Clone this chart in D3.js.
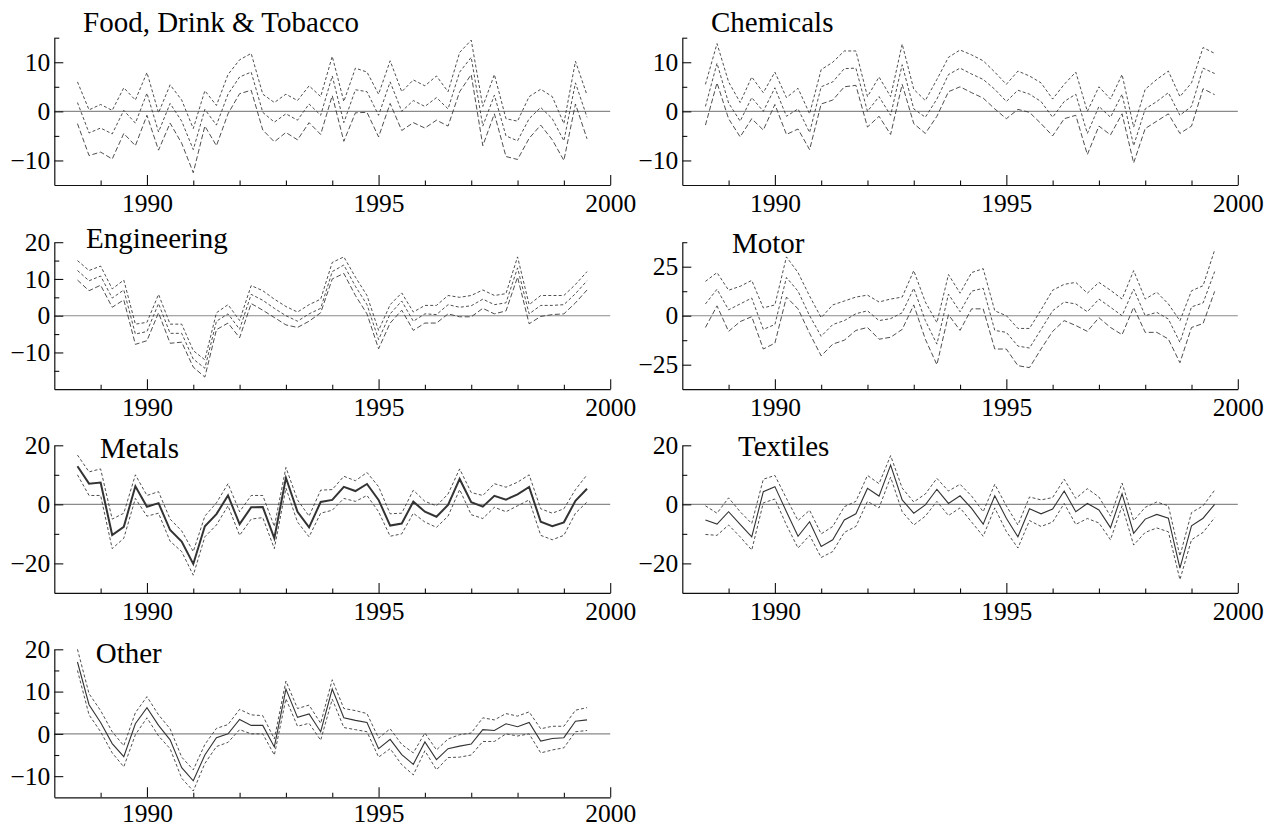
<!DOCTYPE html>
<html>
<head>
<meta charset="utf-8">
<script src="https://cdnjs.cloudflare.com/ajax/libs/d3/7.8.5/d3.min.js"></script>
<style>
  html, body { margin: 0; padding: 0; background: #fff; }
  svg { display: block; }
</style>
</head>
<body>
<svg id="chart" width="1269" height="828"></svg>
<script>
// ---------- DATA (quarterly, 1988.5 .. 1999.5) ----------
const startYear = 1988.5;
const nQuarters = 45;
const dates = d3.range(nQuarters).map(i => startYear + i * 0.25);

const xMajorTicks = [1990, 1995, 2000];
const xMinorTicks = [1989, 1991, 1992, 1993, 1994, 1996, 1997, 1998, 1999];

const titles = ["Food, Drink & Tobacco", "Chemicals", "Engineering", "Motor", "Metals", "Textiles", "Other"];

const foodUp  = [6, 0.3, 1.4, 0.2, 4.8, 2.3, 7.9, -0.3, 5.4, 2.3, -3.5, 4.2, 1.2, 7.5, 10.5, 11.8, 3.5, 1.8, 3.5, 2.2, 5.2, 3.0, 11.2, 2, 8.8, 8, 3.5, 10.3, 4, 6.4, 5.2, 7.2, 4, 12, 14.5, 1, 7.5, -1.5, -2, 3, 4.5, 3, -2.5, 10.2, 3.3];
const foodMid = [1.8, -4.4, -3.4, -4.6, 0.2, -2.4, 3.7, -4.2, 1.6, -2, -7.8, 0.4, -2.8, 3.5, 7, 8, -0.2, -2.2, -0.5, -1.8, 1.5, -0.8, 7.2, -2.3, 4.4, 4, -0.8, 6, 0, 2.2, 1, 2.8, 0.5, 8, 11, -3, 3.3, -5, -6, -1.5, 0.8, -1.5, -6, 5.8, -1.2];
const foodLo  = [-2.5, -9, -8.3, -9.7, -4.5, -7, -0.8, -7.9, -2.4, -6.5, -12.5, -3, -7, -0.5, 3.6, 4.3, -3.8, -6.2, -4.3, -5.8, -2.3, -4.7, 3.2, -6.1, -0.3, -0.2, -5.2, 1.6, -3.9, -2.3, -3.4, -1.8, -3, 4, 7.5, -7, -0.5, -9.2, -9.8, -5.5, -2.8, -5.8, -10, 1.5, -5.6];

const chemUp  = [5.5, 13.8, 6, 1.8, 7, 3.8, 8, 2.8, 4.7, -0.5, 8.5, 10, 12.3, 12.3, 3, 7, 3, 13.7, 4.5, 2.2, 6.5, 11, 12.5, 11.5, 10.3, 8, 5.5, 8.2, 7.2, 5.8, 2.5, 5.5, 8, 0, 5, 2.5, 7.5, -3.2, 4.5, 6.5, 8.2, 3, 5.8, 13, 11.8];
const chemMid = [1, 9.8, 1.7, -2, 2.8, 0, 4.8, -1, 0.5, -4.3, 5, 6, 8.7, 8.8, 0, 3, -0.8, 9.5, 0.5, -1.2, 2.5, 7.5, 8.8, 7.6, 6.5, 4.5, 2, 4.3, 3.5, 2, -1.2, 2, 3.5, -4.5, 1, -1.2, 3.5, -7, 0.5, 2, 3.8, -0.8, 1, 8.8, 7.7];
const chemLo  = [-2.8, 5.8, -1.5, -5.2, -1.5, -3.8, 1.4, -4.7, -3.6, -7.8, 1.5, 2.3, 5, 5.3, -3.2, -1, -4.7, 5.5, -2.5, -4.5, -1, 4, 5, 3.8, 2.7, 0.5, -1.5, 0.4, -0.2, -2.5, -5, -1.5, -0.8, -8.8, -3, -4.8, -0.5, -10.5, -3.5, -2, -0.5, -4.5, -3, 4.6, 3.4];

const engUp  = [15, 12.3, 13.5, 7.3, 9.7, -2.3, -1.8, 5.8, -2.3, -2.3, -9.5, -12, 0.8, 3, -1.3, 8.2, 6.8, 4.5, 2.5, 1, 3, 4.5, 14.5, 16, 10.5, 5.5, -4, 3, 6.2, 1, 2.8, 2.8, 5.5, 5, 5.5, 7, 5.5, 6, 16, 3, 5.5, 5.5, 5.5, 8.5, 12];
const engMid = [12.3, 9.5, 10.8, 4.8, 7, -5, -4.3, 3.3, -4.8, -4.8, -11.8, -14.3, -1.5, 0.5, -3.7, 5.8, 4.2, 2, 0, -1.5, 0.5, 2, 12, 13.8, 8, 3, -6.5, 0.5, 4, -1.5, 0.5, 0.3, 3, 2.3, 2.7, 4.5, 3, 3.5, 13, 0.5, 2.8, 2.8, 3, 6, 9.5];
const engLo  = [9.7, 6.8, 8.3, 2.3, 4.3, -7.8, -6.8, 0.8, -7.5, -7.2, -14, -16.7, -3.8, -2, -6, 3.3, 1.5, -0.5, -2.5, -3.2, -1.5, 0.8, 10, 11.5, 5.5, 0.5, -9, -2, 1.5, -4, -2, -2, 0.5, -0.3, -0.3, 2, 0.5, 1.3, 10.5, -2.2, -0.2, 0.3, 0.5, 3.5, 7];

const motorUp  = [17.5, 22, 13, 15, 18, 4, 5.5, 30, 22, 10, -1, 5.5, 7.5, 9.5, 10.5, 7, 8.5, 9.5, 23, 7, -3.5, 21, 11.5, 22, 24, 2.5, 0, -6.5, -6.5, 3, 13, 16, 17, 11.5, 17, 13, 8.5, 23, 8.5, 12, 6, -2.6, 12.7, 15.3, 33.5];
const motorMid = [6, 13.5, 3, 6, 9, -7, -4.5, 19.5, 12.5, 0, -10.5, -4.5, -2.5, 1, 2.5, -2.5, -1.5, 1.5, 14, -2.5, -14.5, 11, 2, 12.5, 14, -7.5, -8.5, -15.5, -16.5, -7, 2.5, 7, 6, 2, 8.5, 4.3, 0, 13.6, 0, 1.7, -1.7, -13.6, 4.5, 6.5, 22.5];
const motorLo  = [-6, 5, -8, -3, -0.5, -17, -14, 9.5, 3.5, -9, -20.5, -14.5, -12.5, -7.5, -6, -12, -11, -7, 5.5, -12, -25, 0.5, -7.5, 3.5, 3.5, -17, -17, -25.5, -26.5, -17, -8, -2.5, -5, -8, -1, -6, -9.7, 4.3, -8.5, -8.5, -11.9, -24, -6, -4, 12.4];

const metalsUp  = [16.7, 11, 12, -5, -3, 10, 3, 4.3, -5, -9, -16, -4, 0.5, 7, -2.5, 3, 3, -7.5, 12.5, 1.5, -4, 4.8, 5, 9.5, 8, 10.8, 6, -3.2, -3, 4.8, 1, -0.5, 3.5, 12, 4, 3, 7, 5.8, 7.5, 10, -1.5, -3, -1.5, 5, 10];
const metalsMid = [12.9, 7, 7.4, -10.4, -7.6, 6.1, -0.8, 0.4, -8.7, -12.6, -20.2, -7.4, -3.3, 3, -6.7, -1, -0.9, -11.5, 9, -2.5, -7.8, 0.8, 1.5, 5.9, 4.5, 6.9, 1.5, -7.2, -6.5, 0.9, -2.5, -4.2, -0.2, 8.6, 0.7, -0.8, 2.9, 1.6, 3.4, 5.9, -5.9, -7.4, -6.1, 1.2, 5.3];
const metalsLo  = [10, 3, 3, -15, -11.5, 2, -4, -3, -12.5, -16, -24, -11, -7, -0.5, -10.5, -5, -4.5, -15, 5.5, -6, -11, -3, -2, 2, 1, 3, -2.5, -10.8, -10, -3, -6, -7.8, -4, 5, -3.5, -4.8, -1, -2.5, -0.5, 1.5, -10.5, -12, -10.5, -3, 0.8];

const textUp  = [-0.5, -3, 2.2, -2.5, -6.5, 8.5, 9.8, 2, -5.5, -2, -10, -7.5, -0.8, 1, 9.8, 7, 16.5, 5.5, 0.8, 3.5, 8.8, 4.5, 6.8, 2.8, -2.5, 6.8, -0.5, -7, 2.5, 1.5, 2.3, 8.5, 2, 5.3, 2.5, -4, 7.2, -5.5, -1, 0.8, -0.5, -17.5, -2.8, -0.5, 4.8];
const textMid = [-5.3, -6.7, -2.5, -6.8, -11, 4.3, 6, -2.5, -10.8, -5.9, -14.3, -12, -5.3, -3.2, 5.4, 2.8, 13.3, 1.5, -3, -0.2, 5.1, 0.3, 2.9, -1.4, -6.7, 2.9, -4.7, -11, -1.5, -3.2, -1.6, 4.5, -2.5, 0.3, -1.9, -7.9, 3.6, -9.8, -5, -3.4, -4.7, -21.6, -7.3, -4.7, 0];
const textLo  = [-10.2, -10.5, -7, -11, -15.5, 0.5, 1.8, -7, -14.8, -10.5, -18, -16, -9.5, -7.5, 1, -1.2, 9.2, -2.5, -7, -4, 1, -3.8, -1.2, -6, -10.8, -1.2, -9.2, -14.8, -5.5, -7.5, -6, 0.3, -6.8, -4.8, -6.3, -12, -0.5, -13.8, -9.5, -8, -9.3, -25.5, -12, -9.5, -4.5];

const otherUp  = [20, 9.5, 5.5, 0.5, -2.8, 5, 8.8, 4.5, 1.2, -5.5, -8.5, -2.5, 1.3, 2.2, 5.8, 4.5, 4.3, -1.2, 12.5, 6, 6.8, 2.5, 12.8, 6, 5.5, 4.8, -1, 1.2, -2.5, -4.5, 0.2, -3.8, -1.2, -0.2, 0.2, 3.8, 3.3, 4.8, 4.2, 5.2, 1.2, 1.8, 1.8, 5.6, 6.2];
const otherMid = [17, 6.9, 2.7, -2.3, -5.4, 2.4, 6.2, 2, -1.4, -8, -11.1, -5, -0.9, 0, 3.4, 2, 2, -3.1, 10.6, 3.9, 4.7, 0.5, 10.6, 3.8, 3.2, 2.7, -3.5, -1.3, -4.9, -7.2, -1.9, -6.1, -3.5, -2.9, -2.4, 1, 0.8, 2.4, 1.7, 2.7, -1.7, -1.1, -0.9, 3, 3.3];
const otherLo  = [15, 4.5, 0.5, -4.5, -7.8, -0.2, 3.8, -0.5, -3.5, -10.5, -13.5, -7, -3, -2, 1, 0, 0, -5, 8.3, 1.8, 2.5, -1.5, 8.2, 1.5, 1, 0.5, -5.5, -3.5, -7.3, -9.7, -4, -8.5, -5.6, -5.5, -5, -1.8, -1.8, 0, -0.5, 0, -4.5, -3.8, -3.3, 0.5, 0.8];

// y-axis domains and tick values per panel
const yDomains = {
  food: [-15, 15], chem: [-15, 15], eng: [-20, 20], motor: [-37.5, 37.5],
  metals: [-30, 20], text: [-30, 20], other: [-15, 20]
};
const yMajor = {
  food: [-10, 0, 10], chem: [-10, 0, 10], eng: [-10, 0, 10, 20], motor: [-25, 0, 25],
  metals: [-20, 0, 20], text: [-20, 0, 20], other: [-10, 0, 10, 20]
};
const yMinor = {
  food: [-5, 5, 15], chem: [-5, 5, 15], eng: [-15, -5, 5, 15], motor: [-12.5, 12.5, 37.5],
  metals: [-10, 10], text: [-10, 10], other: [-5, 5, 15]
};

// ---------- LAYOUT ----------
const cols = [{x0: 54.3, x1: 610.2}, {x0: 682.3, x1: 1237.8}];
const rows = [
  {yt: 37.7, yb: 185, pad: 9},
  {yt: 242.2, yb: 389.2, pad: 9},
  {yt: 445.3, yb: 592.9, pad: 9},
  {yt: 649.3, yb: 797.3, pad: 7}
];

const panels = [
  {key: "food",   title: titles[0], col: 0, row: 0, up: foodUp,   mid: foodMid,   lo: foodLo,   midStyle: "dash",  tdx: 28.7, tby: 32},
  {key: "chem",   title: titles[1], col: 1, row: 0, up: chemUp,   mid: chemMid,   lo: chemLo,   midStyle: "dash",  tdx: 28.7, tby: 32},
  {key: "eng",    title: titles[2], col: 0, row: 1, up: engUp,    mid: engMid,    lo: engLo,    midStyle: "dash",  tdx: 31.7, tby: 248},
  {key: "motor",  title: titles[3], col: 1, row: 1, up: motorUp,  mid: motorMid,  lo: motorLo,  midStyle: "dash",  tdx: 49.7, tby: 253},
  {key: "metals", title: titles[4], col: 0, row: 2, up: metalsUp, mid: metalsMid, lo: metalsLo, midStyle: "thick", tdx: 45.7, tby: 458},
  {key: "text",   title: titles[5], col: 1, row: 2, up: textUp,   mid: textMid,   lo: textLo,   midStyle: "solid", tdx: 55.7, tby: 456},
  {key: "other",  title: titles[6], col: 0, row: 3, up: otherUp,  mid: otherMid,  lo: otherLo,  midStyle: "solid", tdx: 41.4, tby: 663}
];

const FONT = "'Liberation Serif', 'Times New Roman', serif";
const svg = d3.select("#chart");
svg.append("rect").attr("width", 1269).attr("height", 828).attr("fill", "#fff");

panels.forEach(p => {
  const c = cols[p.col], r = rows[p.row];
  const x = d3.scaleLinear().domain([1988, 2000]).range([c.x0, c.x1]);
  const y = d3.scaleLinear().domain(yDomains[p.key]).range([r.yb, r.yt]);
  const g = svg.append("g");

  // zero line
  g.append("line")
    .attr("x1", x(1988)).attr("x2", x(2000))
    .attr("y1", y(0)).attr("y2", y(0))
    .attr("stroke", "#8a8a8a").attr("stroke-width", 1.1);

  const line = d3.line().x((d, i) => x(dates[i])).y(d => y(d));

  const bandDash = "3,2.2";
  g.append("path").datum(p.up).attr("d", line)
    .attr("fill", "none").attr("stroke", "#3a3a3a").attr("stroke-width", 0.9)
    .attr("stroke-dasharray", bandDash);
  g.append("path").datum(p.lo).attr("d", line)
    .attr("fill", "none").attr("stroke", "#3a3a3a").attr("stroke-width", 0.9)
    .attr("stroke-dasharray", p.midStyle === "dash" ? "5,2.5" : bandDash);

  const midPath = g.append("path").datum(p.mid).attr("d", line).attr("fill", "none");
  if (p.midStyle === "dash") {
    midPath.attr("stroke", "#3a3a3a").attr("stroke-width", 0.9).attr("stroke-dasharray", "3,2.2");
  } else if (p.midStyle === "thick") {
    midPath.attr("stroke", "#333").attr("stroke-width", 2);
  } else {
    midPath.attr("stroke", "#333").attr("stroke-width", 1.1);
  }

  // x axis: major ticks with labels, minor ticks without
  const xAxisMajor = d3.axisBottom(x).tickValues(xMajorTicks).tickSize(-10).tickSizeOuter(0)
    .tickPadding(r.pad).tickFormat(d3.format("d"));
  const gx = g.append("g").attr("transform", `translate(0,${r.yb})`).call(xAxisMajor);
  const xAxisMinor = d3.axisBottom(x).tickValues(xMinorTicks).tickSize(-4.5).tickFormat("");
  const gx2 = g.append("g").attr("transform", `translate(0,${r.yb})`).call(xAxisMinor);
  gx2.select(".domain").remove();

  // y axis
  const yAxisMajor = d3.axisLeft(y).tickValues(yMajor[p.key]).tickSize(-9).tickSizeOuter(0).tickPadding(4);
  const gy = g.append("g").attr("transform", `translate(${c.x0},0)`).call(yAxisMajor);
  const yAxisMinor = d3.axisLeft(y).tickValues(yMinor[p.key]).tickSize(-5).tickFormat("");
  const gy2 = g.append("g").attr("transform", `translate(${c.x0},0)`).call(yAxisMinor);
  gy2.select(".domain").remove();

  [gx, gx2, gy, gy2].forEach(a => {
    a.attr("font-family", FONT).attr("font-size", 25.5);
    a.selectAll("line").attr("stroke", "#111").attr("stroke-width", 1.1);
    a.selectAll(".domain").attr("stroke", "#111").attr("stroke-width", 1.2);
    a.selectAll("text").attr("fill", "#000");
  });

  // title
  g.append("text")
    .attr("x", c.x0 + p.tdx).attr("y", p.tby)
    .attr("font-family", FONT).attr("font-size", 29).attr("fill", "#000")
    .text(p.title);
});
</script>
</body>
</html>
